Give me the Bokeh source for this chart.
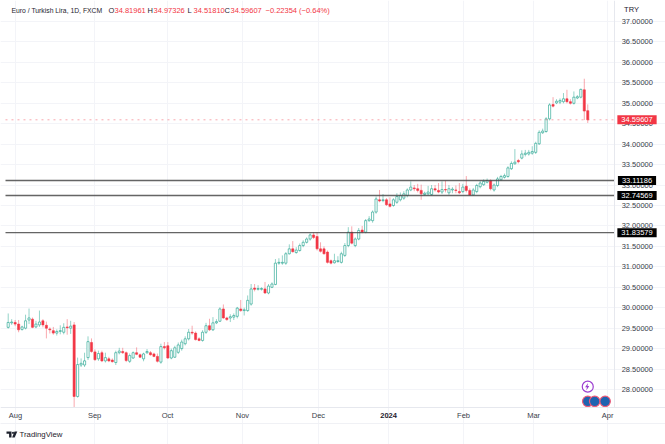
from bokeh.plotting import figure
from bokeh.models import (ColumnDataSource, FixedTicker, Label, NumeralTickFormatter,
                          PolyAnnotation)
from bokeh.embed import file_html
from bokeh.resources import INLINE

opens = [29.52,29.63,29.64,29.60,29.47,29.50,29.70,29.72,29.53,29.58,
 29.68,29.57,29.48,29.44,29.38,29.42,29.40,29.53,29.50,29.58,
 27.83,28.60,28.60,28.78,29.15,28.92,28.75,28.90,28.70,28.75,
 28.72,28.66,28.90,28.93,28.90,28.69,28.77,28.90,28.85,28.75,
 28.90,28.90,28.87,28.81,28.67,29.05,29.07,28.77,28.79,28.91,
 29.00,29.12,29.24,29.40,29.38,29.24,29.20,29.40,29.56,29.46,
 29.63,29.67,29.97,29.75,29.75,29.77,29.79,29.97,29.93,29.93,
 30.09,30.48,30.45,30.45,30.46,30.36,30.50,30.57,31.09,31.09,
 31.09,31.32,31.44,31.35,31.40,31.52,31.60,31.68,31.78,31.74,
 31.44,31.44,31.36,31.15,31.10,31.13,31.11,31.28,31.52,31.85,
 31.52,31.68,31.90,31.85,32.13,32.13,32.34,32.64,32.62,32.64,
 32.54,32.50,32.58,32.64,32.68,32.744,32.88,32.93,32.91,32.87,
 32.77,32.785,32.77,32.91,32.87,32.83,32.89,32.81,32.88,32.88,
 32.84,32.84,32.97,32.87,32.76,32.84,32.96,33.01,33.07,33.11,
 32.88,32.99,33.13,33.19,33.21,33.40,33.52,33.60,33.66,33.75,
 33.76,33.78,33.80,34.01,34.28,34.31,34.62,34.97,35.01,35.03,
 35.04,35.11,35.04,35.00,35.13,35.15,35.33,34.81961]
highs = [29.86,29.72,29.70,29.70,29.56,29.83,29.98,29.76,29.68,29.93,
 29.72,29.66,29.52,29.53,29.47,29.57,29.62,29.72,29.68,29.65,
 28.78,28.76,28.90,29.30,29.25,28.98,28.95,28.95,28.90,28.80,
 28.76,28.95,29.02,29.02,28.93,28.88,28.93,29.03,28.88,28.90,
 28.99,28.94,28.90,28.88,29.12,29.16,29.16,29.00,29.07,29.15,
 29.22,29.30,29.48,29.56,29.42,29.28,29.45,29.63,29.73,29.77,
 29.72,30.01,30.08,29.78,29.84,29.86,30.02,30.19,30.00,30.30,
 30.58,30.58,30.55,30.50,30.63,30.58,30.62,31.19,31.21,31.28,
 31.36,31.55,31.63,31.48,31.57,31.65,31.72,31.82,31.85,31.85,
 31.60,31.50,31.40,31.18,31.32,31.26,31.37,31.58,31.97,31.99,
 31.72,31.95,32.00,32.17,32.24,32.38,32.72,32.88,32.78,32.68,
 32.70,32.68,32.80,32.82,32.85,32.92,33.09,33.00,33.03,33.01,
 32.84,32.98,33.00,33.00,33.05,33.09,33.11,33.00,32.95,32.99,
 33.05,33.03,33.22,32.92,32.93,33.03,33.10,33.14,33.16,33.14,
 33.04,33.20,33.25,33.28,33.46,33.58,33.88,33.64,33.85,33.86,
 33.86,33.95,34.06,34.34,34.38,34.66,35.00,35.15,35.10,35.12,
 35.25,35.33,35.10,35.29,35.20,35.36,35.60,34.97326]
lows = [29.49,29.58,29.55,29.40,29.44,29.47,29.60,29.50,29.50,29.53,
 29.52,29.25,29.37,29.34,29.32,29.35,29.35,29.34,29.36,27.55,
 27.80,28.55,28.55,28.72,28.90,28.70,28.70,28.67,28.66,28.67,
 28.66,28.60,28.86,28.87,28.67,28.65,28.75,28.84,28.77,28.69,
 28.87,28.83,28.79,28.66,28.63,28.98,28.75,28.74,28.77,28.87,
 28.95,29.08,29.20,29.34,29.20,29.18,29.17,29.36,29.43,29.43,
 29.60,29.65,29.73,29.68,29.65,29.70,29.74,29.90,29.81,29.90,
 30.05,30.40,30.42,30.42,30.34,30.33,30.48,30.55,31.05,31.05,
 31.05,31.30,31.35,31.32,31.37,31.48,31.57,31.64,31.68,31.40,
 31.35,31.30,31.08,31.06,31.08,31.10,31.08,31.24,31.48,31.55,
 31.48,31.65,31.82,31.82,32.10,32.08,32.30,32.58,32.58,32.49,
 32.45,32.47,32.54,32.60,32.64,32.70,32.85,32.85,32.82,32.64,
 32.74,32.75,32.74,32.84,32.80,32.78,32.82,32.76,32.80,32.80,
 32.78,32.80,32.82,32.74,32.74,32.80,32.92,32.98,33.04,32.87,
 32.84,32.95,33.10,33.16,33.18,33.37,33.50,33.53,33.63,33.70,
 33.72,33.74,33.76,33.98,34.25,34.28,34.58,34.90,34.98,34.98,
 35.00,35.00,34.97,34.97,35.10,35.12,34.59,34.51810]
closes = [29.64,29.65,29.60,29.46,29.53,29.68,29.75,29.52,29.60,29.65,
 29.58,29.50,29.46,29.38,29.42,29.44,29.52,29.51,29.55,27.83,
 28.61,28.64,28.70,29.17,28.93,28.73,28.88,28.70,28.78,28.70,
 28.68,28.90,28.94,28.90,28.71,28.83,28.90,28.86,28.79,28.87,
 28.93,28.85,28.81,28.69,29.05,29.02,28.77,28.95,29.02,29.09,
 29.16,29.24,29.40,29.38,29.22,29.20,29.40,29.56,29.46,29.63,
 29.66,29.97,29.75,29.71,29.78,29.81,29.99,29.93,29.95,30.18,
 30.46,30.45,30.47,30.47,30.36,30.53,30.58,31.09,31.11,31.11,
 31.32,31.44,31.37,31.41,31.52,31.60,31.68,31.78,31.72,31.44,
 31.38,31.32,31.11,31.09,31.15,31.15,31.32,31.52,31.85,31.58,
 31.68,31.89,31.85,32.13,32.17,32.34,32.66,32.61,32.64,32.52,
 32.48,32.64,32.72,32.744,32.785,32.88,32.95,32.91,32.87,32.785,
 32.80,32.83,32.91,32.88,32.83,32.89,32.88,32.91,32.90,32.87,
 32.81,32.95,32.87,32.76,32.88,32.99,33.05,33.09,33.11,32.91,
 33.00,33.15,33.21,33.23,33.42,33.53,33.56,33.57,33.76,33.78,
 33.80,33.82,34.02,34.29,34.32,34.62,34.96,34.93,35.05,35.07,
 35.11,35.04,35.00,35.15,35.16,35.34,34.81,34.59607]

levels = [33.11186, 32.74569, 31.83579]
last_close = 34.59607
price_ticks = [28.0, 28.5, 29.0, 29.5, 30.0, 30.5, 31.0, 31.5, 32.0, 32.5, 33.0, 33.5,
               34.0, 34.5, 35.0, 35.5, 36.0, 36.5, 37.0]
month_ticks = [2.1, 24.9, 45.9, 67.5, 89.4, 109.6, 131.2, 151.4, 172.7]
month_labels = ["Aug", "Sep", "Oct", "Nov", "Dec", "", "Feb", "Mar", "Apr"]
year_tick, year_label = 109.6, "2024"
event_bars = [167, 169, 172]

UP, DOWN, INK, GRID = "#089981", "#f23645", "#1e222d", "#f3f4f8"
FONT = "Liberation Sans"
SIZE = "7.5px"
W, H = 665, 444

# the chart pane's edges, in the units of the two scales
X_LEFT, X_RIGHT = -0.78, 174.75
Y_BOTTOM, Y_TOP = 27.56, 37.514
Y_TIMEBAR = 27.17

assert len(opens) == len(highs) == len(lows) == len(closes) == 168
bars = list(range(len(opens)))
src = ColumnDataSource(dict(x=bars, o=opens, h=highs, l=lows, c=closes,
                            top=[max(a, b) for a, b in zip(opens, closes)],
                            bot=[min(a, b) for a, b in zip(opens, closes)],
                            fill=["#ffffff" if c >= o else DOWN for o, c in zip(opens, closes)],
                            col=[UP if c >= o else DOWN for o, c in zip(opens, closes)]))

p = figure(width=W, height=H, output_backend="svg", toolbar_location=None,
           x_range=(-2.22, 189.4), y_range=(26.655, Y_TOP), y_axis_location="right",
           min_border=0, outline_line_color=None, background_fill_color="#ffffff")

p.xgrid.ticker = FixedTicker(ticks=month_ticks)
p.ygrid.ticker = FixedTicker(ticks=price_ticks)
p.xgrid.grid_line_color = GRID
p.ygrid.grid_line_color = GRID
p.xgrid.bounds = (Y_BOTTOM, Y_TOP)
p.ygrid.bounds = (X_LEFT, X_RIGHT)

xa, ya = p.xaxis[0], p.yaxis[0]
xa.fixed_location = Y_BOTTOM
ya.fixed_location = X_RIGHT
xa.ticker = FixedTicker(ticks=month_ticks)
xa.major_label_overrides = {t: s for t, s in zip(month_ticks, month_labels)}
ya.ticker = FixedTicker(ticks=price_ticks)
ya.formatter = NumeralTickFormatter(format="0.00000")
ya.bounds = (Y_BOTTOM, Y_TOP)
for ax in (xa, ya):
    ax.axis_line_color = "#e6e8ee"
    ax.major_tick_line_color = None
    ax.minor_tick_line_color = None
    ax.major_tick_out = 0
    ax.major_label_text_font = FONT
    ax.major_label_text_font_size = SIZE
    ax.major_label_text_color = "#3a3e4a"
xa.major_label_standoff = 4
ya.major_label_standoff = 7

p.segment(x0=[X_LEFT - 5], x1=[X_RIGHT + 15], y0=[Y_TIMEBAR], y1=[Y_TIMEBAR], line_color="#f0f1f5", line_width=1)

p.segment(x0="x", x1="x", y0="l", y1="h", color="col", line_width=0.8, line_alpha=0.55, source=src)
p.vbar(x="x", width=0.62, top="top", bottom="bot", fill_color="fill", line_color="col",
       line_width=0.8, line_alpha=0.7, source=src)

p.segment(x0=[X_LEFT], x1=[X_RIGHT], y0=[last_close], y1=[last_close], line_color=DOWN,
          line_dash="dotted", line_width=0.8, line_alpha=0.55)
p.segment(x0=[X_LEFT] * 3, x1=[X_RIGHT] * 3, y0=levels, y1=levels, line_color="#4a4a4a",
          line_width=1.4, line_alpha=0.85)

# event pins at the foot of the chart
p.scatter(event_bars, [27.71] * 3, size=10.5, fill_color="#1f63b0", line_color="#ee5a78", line_width=1.2)
p.scatter(event_bars[:1], [28.07], size=11, fill_color="#ffffff", line_color="#9c3fd0", line_width=1.2)


def text(x, y, s, color=INK, size=SIZE, align="left", **kw):
    p.add_layout(Label(x=x, y=H - y, x_units="screen", y_units="screen", text=s,
                       text_font=FONT, text_font_size=size, text_color=color,
                       text_align=align, text_baseline="middle", **kw))


text(11, 10, "Euro / Turkish Lira, 1D, FXCM", size="6.8px")
for x, head, val in [(108, "O", "34.81961"), (147, "H", "34.97326"),
                     (187, "L", "34.51810"), (224, "C", "34.59607")]:
    text(x, 10, head)
    text(x + 6, 10, val, color=DOWN)
text(265, 10, "\u22120.22354 (\u22120.64%)", color=DOWN)
text(631, 9, "TRY", align="center")
text(19, 434, "TradingView", size="7.8px")

for lv, bg in [(levels[0], "#000000"), (levels[1], "#000000"), (levels[2], "#000000"), (last_close, DOWN)]:
    p.add_layout(Label(x=636.5, y=lv, x_units="screen", text=f"{lv:.5f}", text_font=FONT,
                       text_font_size=SIZE, text_color="#ffffff", text_align="center",
                       text_baseline="middle", background_fill_color=bg, padding=dict(x=4, y=2)))

p.add_layout(Label(x=year_tick, y=H - 415, y_units="screen", text=year_label, text_font=FONT,
                   text_font_size=SIZE, text_font_style="bold", text_color=INK,
                   text_align="center", text_baseline="middle"))


def poly(xs, ys, color=INK):
    p.add_layout(PolyAnnotation(xs=xs, ys=[H - y for y in ys], xs_units="screen", ys_units="screen",
                                fill_color=color, fill_alpha=1, line_color=None))


# TradingView logo
poly([6, 11, 11, 8.6, 8.6, 6], [431, 431, 437, 437, 433.2, 433.2])
poly([14, 16.8, 14.2, 11.6], [431, 431, 437, 437])
poly([11.6, 13, 13.6, 13, 11.6], [431.4, 431.2, 432.3, 433.4, 433.2])
# lightning in the purple event pin
poly([587.6, 584.6, 586.4, 585.8, 588.8, 587], [382.6, 386.8, 386.8, 390, 385.6, 385.6], color="#9c3fd0")

open("out.html", "w").write(file_html(p, INLINE))
